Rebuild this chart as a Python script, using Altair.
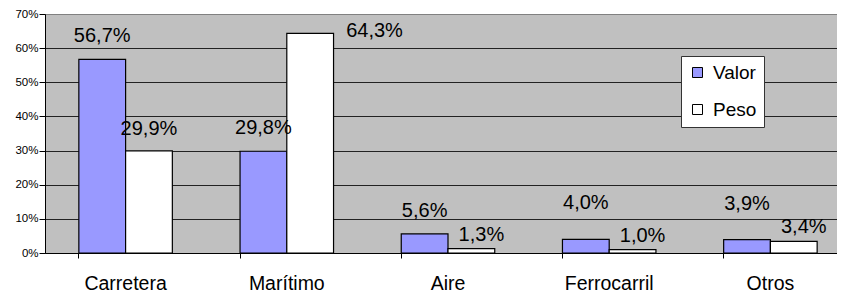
import altair as alt
import pandas as pd

categories = ["Carretera", "Marítimo", "Aire", "Ferrocarril", "Otros"]
series = ["Valor", "Peso"]
valor = [56.7, 29.8, 5.6, 4.0, 3.9]
peso = [29.9, 64.3, 1.3, 1.0, 3.4]
y_ticks = [0, 0.1, 0.2, 0.3, 0.4, 0.5, 0.6, 0.7]

rows = []
for c, v, p in zip(categories, valor, peso):
    rows.append({"cat": c, "serie": "Valor", "value": v / 100})
    rows.append({"cat": c, "serie": "Peso", "value": p / 100})
df = pd.DataFrame(rows)

FONT = "Liberation Sans"

x_enc = alt.X(
    "cat:N",
    sort=categories,
    scale=alt.Scale(range=[0, 806], paddingInner=0.42, paddingOuter=0.21),
    axis=alt.Axis(
        title=None,
        labelAngle=0,
        labelFontSize=19.5,
        labelFont=FONT,
        labelColor="black",
        labelPadding=16,
        tickSize=5,
        tickColor="black",
        domainColor="black",
        bandPosition=0,
        grid=False,
    ),
)
xoff = alt.XOffset("serie:N", sort=series, scale=alt.Scale(paddingInner=0, paddingOuter=0))
y_enc = alt.Y(
    "value:Q",
    scale=alt.Scale(domain=[0, 0.7], nice=False),
    axis=alt.Axis(
        title=None,
        values=y_ticks,
        format=".0%",
        labelFontSize=11.5,
        labelFont=FONT,
        labelColor="black",
        labelPadding=1,
        tickSize=6,
        tickColor="black",
        domainColor="black",
        grid=True,
        gridColor=alt.condition("datum.value >= 0.69", alt.value("#808080"), alt.value("#222222")),
        gridOpacity=1,
    ),
)

base = alt.Chart(df).encode(x=x_enc, xOffset=xoff, y=y_enc)

bars = base.mark_bar(stroke="black", strokeWidth=1.2).encode(
    color=alt.Color(
        "serie:N",
        sort=series,
        scale=alt.Scale(domain=series, range=["#9999FF", "#FFFFFF"]),
        legend=alt.Legend(
            title=None,
            orient="none",
            legendX=636,
            legendY=42,
            fillColor="white",
            strokeColor="#333333",
            padding=7,
            symbolType="square",
            symbolSize=100,
            symbolStrokeColor="black",
            symbolStrokeWidth=1,
            labelFontSize=19,
            labelFont=FONT,
            labelColor="black",
            labelOffset=6,
            rowPadding=17,
        ),
    )
)


def labels(cond, **mark):
    opts = dict(fontSize=20, font=FONT, color="black", baseline="alphabetic")
    opts.update(mark)
    return (
        base.transform_filter(cond)
        .transform_calculate(lbl="replace(format(datum.value, '.1%'), '.', ',')")
        .mark_text(**opts)
        .encode(text="lbl:N")
    )


layers = [
    bars,
    labels("datum.serie == 'Valor' && datum.value >= 0.05", dy=-17),
    labels("datum.serie == 'Valor' && datum.value < 0.05", dy=-30),
    labels("datum.serie == 'Peso' && datum.value < 0.05", dx=10, dy=-8),
    labels("datum.serie == 'Peso' && datum.value >= 0.05 && datum.value < 0.6", dy=-16),
    labels("datum.value >= 0.6", align="left", dx=36, dy=4),
]

chart = (
    alt.layer(*layers)
    .properties(
        width=792,
        height=239,
        padding={"left": 37, "top": 6, "right": 0, "bottom": 41},
        autosize=alt.AutoSizeParams(type="none"),
        background="white",
    )
    .configure_view(fill="#C0C0C0", stroke="#808080", strokeWidth=1)
)

chart.save("out.html", embed_options={"renderer": "svg", "actions": False})
